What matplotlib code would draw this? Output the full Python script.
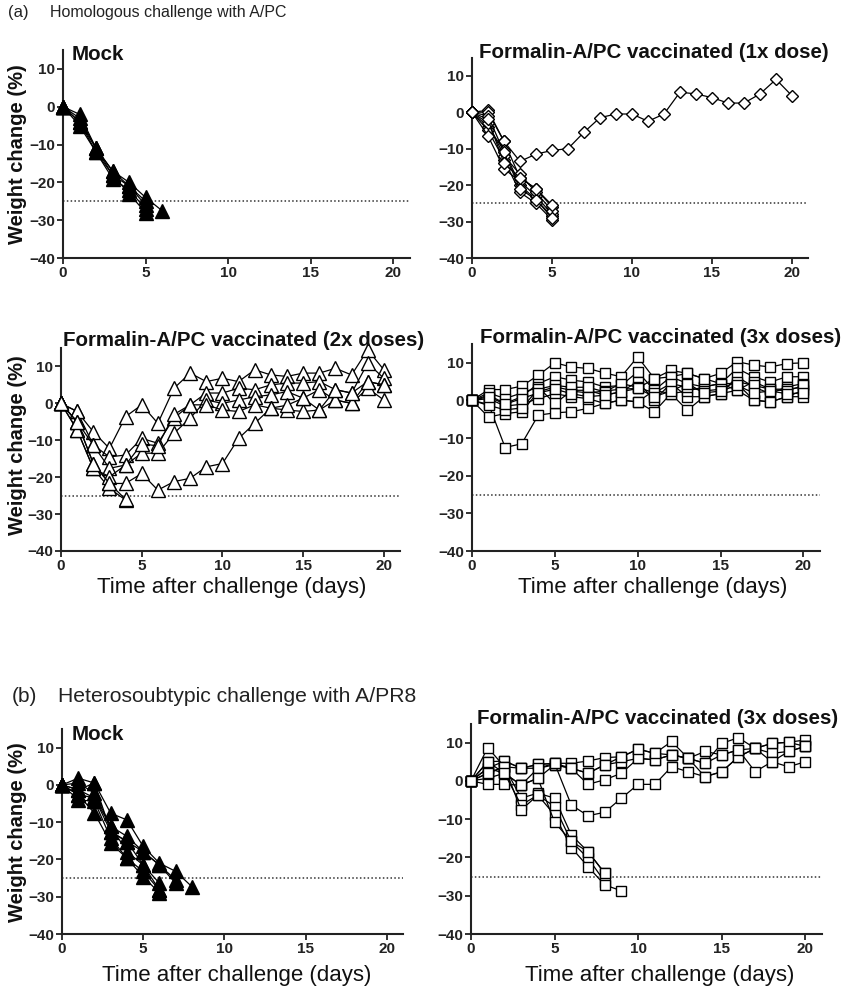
import matplotlib
matplotlib.use("Agg")
import matplotlib.pyplot as plt

plt.rcParams['font.family'] = ['Liberation Sans', 'DejaVu Sans']

W, H = 843, 990

days = list(range(21))
cutoff = -25

# (a) homologous challenge, mock
mock_a = [
    [0, -2, -11, -17, -20, -24, -27.5],
    [0, -3, -11, -18, -21, -26],
    [0, -4, -12, -19, -22, -27],
    [0, -5, -12, -18, -23, -28],
    [0, -4, -11, -17, -21, -25],
]

# (a) 1x dose
dose1_a = [
    [0, 0.5, -8, -13.5, -11.5, -10.5, -10, -5.5, -1.5, -0.5, -0.5,
     -2.5, -0.5, 5.5, 5, 4, 2.5, 2.5, 5, 9, 4.5],
    [0, 0, -8, -18, -21, -26],
    [0, -4, -10.5, -20, -24, -28.5],
    [0, -5, -13, -22, -25, -29.5],
    [0, -6.5, -15.5, -19, -23, -28],
    [0, -3, -12, -17, -22, -27],
    [0, -1, -11, -21, -24, -29],
    [0, -2, -14, -18, -21, -25.5],
]

# (a) 2x doses
dose2_a = [
    [0, -7.2, -17.6, -23, -26.2],
    [0, -5, -16.3, -21.7, -26],
    [0, -2.2, -7.7, -12.2, -3.6, -0.4, -5.4, 4.1, 8.2, 5.9, 6.8,
     5.9, 9.1, 7.7, 7.3, 8.2, 8.2, 9.5, 7.7, 14.5, 9.1],
    [0, -2.2, -11.3, -14.5, -14, -9.5, -10.8, -4, -0.4, 2.8, 2.8,
     4.1, 3.7, 5, 5.5, 5.5, 5.9, 3.7, 2.8, 10.9, 6.8],
    [0, -5, -11.3, -17.6, -16.7, -13.5, -13.5, -8.1, -4, 0.9, 0,
     0.9, 1.8, 2.3, 3.2, 1.4, 3.7, 0.9, 0, 5.9, 5],
    [0, -7.2, -17.6, -19.9, -16.7, -11, -11.5, -3, -0.4, -0.4, -1.8,
     -2.2, -0.4, -1.3, -1.8, -2.2, -1.8, 0.9, 0, 4.1, 0.9],
    [0, -5, -16.3, -21.7, -21.7, -19, -23.5, -21.2, -20.3, -17.2, -16.3,
     -9.5, -5.4, -1.3, -0.5, 1.4, -1.8, 3.7, 2.8, 5.9, 5],
]

# (a) 3x doses
dose3_a = [
    [0, -1, -12.5, -11.5, -3.9, -3.3, -3, -2.1, -0.8, 0.1, -0.4,
     -3, 1.8, -2.6, 1, 1.8, 2.7, 0.1, -0.4, 1, 1],
    [0, 2.9, 2.9, 3.8, 6.7, 10, 8.9, 8.5, 7.3, 6.3, 11.6,
     5.8, 8, 7.2, 5.8, 7.2, 10.3, 9.4, 8.9, 9.8, 10],
    [0, 1.4, -0.8, 1, 4.5, 6.3, 5.4, 4.9, 3.6, 4, 7.6,
     2.7, 6.3, 4.5, 3.6, 4.5, 8.5, 6.3, 4.9, 6.3, 6.3],
    [0, -4.4, -3.5, -3, 2.3, 3.6, 2.7, 2.7, 1.4, 2.3, 5,
     0.1, 4.5, 1, 1, 1.8, 6.3, 3.6, 1.8, 3.6, 4.5],
    [0, 0.5, -1.5, -1, 0.5, 1.8, 1, 0.5, -0.8, 0.1, -0.4,
     2.7, 1.8, 2.5, 3.6, 4.5, 4.5, 0.1, -0.4, 1, 2.7],
    [0, 2, 0.5, 2, 3.5, -0.8, 2.5, 2, 2.5, 3, 3.2,
     5.8, 6.3, 7.2, 5.8, 4.5, 2.7, 5, 3, 3, 3.5],
    [0, -1.3, -2.5, -2, 3, 4, 3.5, 3.5, 2.3, 4.5, 3.5,
     2, 4.5, 3.5, 2.5, 3, 5, 4, 3, 2.5, 4],
    [0, 1, -1, 0.5, 2, 3, 1.8, 1, 1.4, 2.3, 3.2,
     1, 2.5, 4.5, 2, 2.5, 4, 2, 2.5, 1.8, 2],
]

# (b) heterosubtypic challenge, mock
mock_b = [
    [0, 1.8, 0.5, -7.6, -9.4, -16.5, -21, -23.2, -27.3],
    [0, 0.5, -2.2, -11.1, -13.8, -17.9, -21.5, -25.5],
    [0, -1.3, 0.5, -12.5, -15.2, -17.9, -21.5, -26.4],
    [0, -2.6, -3.5, -11.1, -17.9, -21.5, -26.4],
    [0, -4, -4.4, -14.3, -19.7, -23.2, -28.2],
    [0, -2.6, -7.6, -15.6, -19.7, -24.6, -29],
    [0, -1.3, -3.5, -12.5, -15.2, -21.5, -28.2],
]

# (b) 3x doses
dose3_b = [
    [0, 2, 3.7, 3.3, 4.3, 4.6, 4.6, 5.2, 6.1, 6.3, 8.3,
     7.2, 10.3, 5.9, 4.6, 9.8, 11.3, 8.5, 9.8, 10.1, 10.7],
    [0, 5, 5.2, 3.3, 3.3, 4.2, 3.3, 2, 4.2, 5, 5.9,
     5.5, 6.8, 5.9, 7.7, 6.8, 8.1, 8.5, 7.2, 7.7, 9],
    [0, 0.7, 2, -1.1, 0.7, 4.2, 3.3, -0.9, 0.3, 2, 5.9,
     5.5, 6.8, 5.9, 1.1, 2.4, 6.3, 8.5, 9.8, 10.1, 9],
    [0, 3.3, 5.2, 3.3, 4.3, 4.6, -6.3, -9.1, -8.2, -4.5, -0.9,
     -0.9, 3.7, 2.4, 1.1, 2.4, 6.3, 8.5, 5, 7.7, 9],
    [0, -0.9, -0.9, -1.1, 3.3, 4.6, 3.3, 2, 4.2, 6.3, 8.3,
     7.2, 6.8, 5.9, 4.6, 6.8, 8.1, 2.4, 5, 3.7, 5],
    [0, 8.7, 3.7, -4.5, -3.2, -4.5, -14.1, -18.5, -24.1],
    [0, 3.3, 2, -6.3, -3.7, -6.7, -15.8, -20.2, -26.3],
    [0, 2, 3.7, -7.6, -3.7, -8.9, -17.4, -22.4, -27.2, -28.7],
    [0, 5, 2, -1.1, 0.7, -10.8, -15.8, -18.5, -24.1],
]

fig = plt.figure(figsize=(W / 100, H / 100), dpi=100)


def px_axes(left, top, right, bottom):
    return fig.add_axes([left / W, 1 - bottom / H, (right - left) / W, (bottom - top) / H])


def fig_text(x, y, s, **kw):
    fig.text(x / W, 1 - y / H, s, **kw)


def draw_panel(ax, series, marker, ms, filled):
    for s in series:
        ax.plot(days[:len(s)], s, color='black', lw=0.9, marker=marker, ms=ms,
                mfc='black' if filled else 'white', mec='black', mew=1.0,
                clip_on=False, zorder=3)
    ax.axhline(cutoff, color='#333333', lw=1.1, ls=(0, (1, 1.5)), zorder=1)
    ax.set_xlim(0, 21)
    ax.set_ylim(-40, 15)
    ax.set_xticks([0, 5, 10, 15, 20])
    ax.set_yticks([-40, -30, -20, -10, 0, 10])
    for side in ('top', 'right'):
        ax.spines[side].set_visible(False)
    for side in ('left', 'bottom'):
        ax.spines[side].set_linewidth(1.5)
        ax.spines[side].set_color('#222222')
    ax.tick_params(direction='out', length=4, width=1.3, pad=1.5,
                   labelsize=11, colors='#222222')
    for lab in ax.get_xticklabels() + ax.get_yticklabels():
        lab.set_fontweight('bold')


ax1 = px_axes(63, 50, 410, 258)
draw_panel(ax1, mock_a, '^', 9.5, True)
ax2 = px_axes(472, 57.5, 808, 258)
draw_panel(ax2, dose1_a, 'D', 6.5, False)
ax3 = px_axes(61, 348, 400, 551)
draw_panel(ax3, dose2_a, '^', 10.5, False)
ax4 = px_axes(472, 344, 820, 551)
draw_panel(ax4, dose3_a, 's', 6.5, False)
ax5 = px_axes(62, 729, 403, 934)
draw_panel(ax5, mock_b, '^', 9.5, True)
ax6 = px_axes(471, 723.5, 822, 934)
draw_panel(ax6, dose3_b, 's', 6.5, False)

# section headers
fig_text(8, 13, '(a)', fontsize=12, va='center', color='#222222')
fig_text(50, 13, 'Homologous challenge with A/PC', fontsize=11.5, va='center', color='#222222')
fig_text(12, 697, '(b)', fontsize=15, va='center', color='#222222')
fig_text(58, 697, 'Heterosoubtypic challenge with A/PR8', fontsize=15.2, va='center', color='#222222')

# panel titles
title_kw = dict(fontsize=14.8, fontweight='bold', ha='center', va='center', color='#111111')
fig_text(72, 55, 'Mock', **dict(title_kw, ha='left'))
fig_text(654, 52, 'Formalin-A/PC vaccinated (1x dose)', **title_kw)
fig_text(244, 340, 'Formalin-A/PC vaccinated (2x doses)', **title_kw)
fig_text(661, 337, 'Formalin-A/PC vaccinated (3x doses)', **title_kw)
fig_text(72, 735, 'Mock', **dict(title_kw, ha='left'))
fig_text(658, 718, 'Formalin-A/PC vaccinated (3x doses)', **title_kw)

# axis labels
ylab_kw = dict(fontsize=14.5, fontweight='bold', rotation=90, ha='center', va='center', color='#111111')
fig_text(18, 154, 'Weight change (%)', **ylab_kw)
fig_text(18, 445, 'Weight change (%)', **ylab_kw)
fig_text(18, 832, 'Weight change (%)', **ylab_kw)
xlab_kw = dict(fontsize=16, ha='center', va='center', color='#111111')
fig_text(232, 588, 'Time after challenge (days)', **xlab_kw)
fig_text(653, 587, 'Time after challenge (days)', **xlab_kw)
fig_text(237, 975, 'Time after challenge (days)', **xlab_kw)
fig_text(660, 975, 'Time after challenge (days)', **xlab_kw)

fig.savefig('out.png', dpi=100)
